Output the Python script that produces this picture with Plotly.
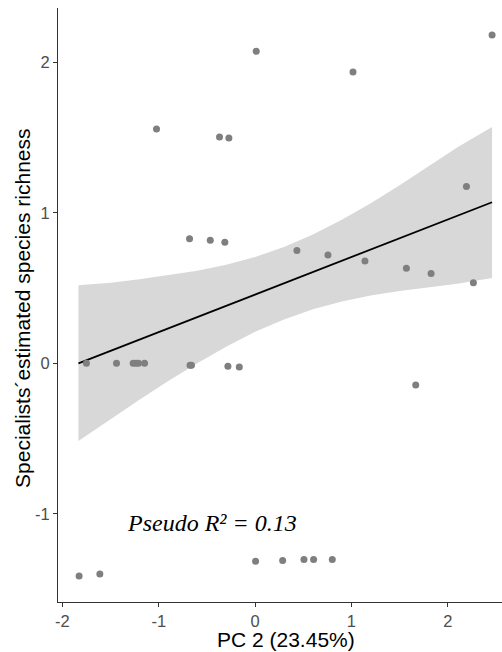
import plotly.graph_objects as go

# Observed points (PC 2 score, specialists' estimated species richness)
pc2 = [-1.023, -0.369, -0.272, -0.680, -0.465, -0.314,
       0.012, 1.016, 2.459, 2.193, 0.434, 0.756, 1.140, 1.570, 1.826, 2.265,
       -1.750, -1.438, -1.265, -1.235, -1.210, -1.147, -0.675, -0.660, -0.282, -0.164,
       -1.826, -1.611,
       1.667, 0.005, 0.286, 0.507, 0.607, 0.801]
richness = [1.556, 1.503, 1.496, 0.828, 0.818, 0.805,
            2.072, 1.935, 2.181, 1.174, 0.749, 0.720, 0.680, 0.632, 0.596, 0.536,
            0.0, 0.0, 0.0, 0.0, 0.0, 0.0, -0.013, -0.013, -0.020, -0.025,
            -1.412, -1.399,
            -0.144, -1.315, -1.310, -1.303, -1.303, -1.303]

# Fitted line endpoints and confidence band edges
fit_x = [-1.833, 2.459]
fit_y = [0.000, 1.070]
band_x = [-1.833, -1.5, -1.2, -0.9, -0.6, -0.3, 0.0, 0.3, 0.6, 0.9, 1.2, 1.5, 1.8, 2.1, 2.459]
band_lo = [-0.516, -0.370, -0.242, -0.118, 0.001, 0.111, 0.210, 0.292, 0.359, 0.410,
           0.450, 0.481, 0.507, 0.529, 0.566]
band_hi = [0.518, 0.536, 0.558, 0.584, 0.615, 0.655, 0.706, 0.772, 0.855, 0.954,
           1.064, 1.183, 1.307, 1.435, 1.570]

x_ticks = [-2, -1, 0, 1, 2]
x_tick_text = ["-2", "-1", "0", "1", "2"]
y_ticks = [-1, 0, 1, 2]
y_tick_text = ["-1", "0", "1", "2"]

fig = go.Figure()
fig.add_trace(go.Scatter(x=band_x, y=band_lo, mode="lines", line=dict(width=0),
                         hoverinfo="skip", showlegend=False))
fig.add_trace(go.Scatter(x=band_x, y=band_hi, mode="lines", line=dict(width=0),
                         fill="tonexty", fillcolor="#d8d8d8", hoverinfo="skip", showlegend=False))
fig.add_trace(go.Scatter(x=fit_x, y=fit_y, mode="lines", line=dict(color="black", width=1.8),
                         showlegend=False))
fig.add_trace(go.Scatter(x=pc2, y=richness, mode="markers",
                         marker=dict(color="#7f7f7f", size=7), showlegend=False))

tick_font = dict(family="Liberation Sans, Arial", size=16.5, color="#4d4d4d")
axis_common = dict(showgrid=False, zeroline=False, showline=True, linecolor="#333333",
                   linewidth=1, ticks="outside", ticklen=4, tickcolor="#333333", tickwidth=1,
                   tickfont=tick_font)

title_font = dict(family="Liberation Sans, Arial", size=21, color="black")

fig.update_layout(
    width=502, height=652,
    margin=dict(l=58, r=0, t=8, b=50),
    plot_bgcolor="white", paper_bgcolor="white",
    xaxis=dict(range=[-2.045, 2.562], tickvals=x_ticks, ticktext=x_tick_text, **axis_common),
    yaxis=dict(range=[-1.585, 2.36], tickvals=y_ticks, ticktext=y_tick_text, **axis_common),
    annotations=[
        dict(x=0.317, y=-1.585, xref="x", yref="y", text="PC 2 (23.45%)", showarrow=False,
             yshift=-37, yanchor="middle", xanchor="center", font=title_font),
        dict(x=0, y=0.361, xref="paper", yref="y",
             text="Specialists´estimated species richness", showarrow=False,
             textangle=-90, xshift=-35, xanchor="center", yanchor="middle", font=title_font),
        dict(x=-0.45, y=-1.062, xref="x", yref="y", text="<i>Pseudo R² = 0.13</i>",
             showarrow=False, font=dict(family="Liberation Serif, Times New Roman", size=24,
                                        color="black")),
    ],
)

fig.write_html("out.html")
